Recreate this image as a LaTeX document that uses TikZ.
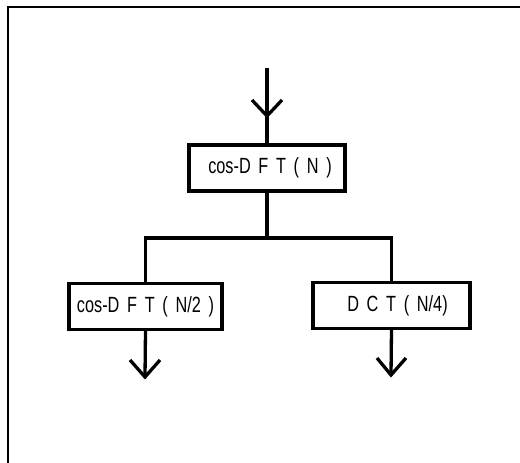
\documentclass[tikz,border=0pt]{standalone}
\usepackage{fontspec}
\newfontfamily\condfont[FakeStretch=0.74, WordSpace=1.7]{Liberation Sans}
\usetikzlibrary{calc}
\tikzset{
  blockbox/.style={draw, line width=3.3pt, minimum height=46pt, inner sep=0pt,
    font=\condfont\fontsize{22}{24}\selectfont},
  wire/.style={line width=3.3pt},
  vhead/.style={line width=3.3pt, line join=miter},
}
\begin{document}
\begin{tikzpicture}[x=1pt, y=-1pt]
  \useasboundingbox (0,0) rectangle (520,463);
  % outer frame (only the top and left edges are visible)
  \draw[line width=2.6pt] (8,480) -- (8,7) -- (540,7);

  % blocks
  \node[blockbox, minimum width=156pt] (top) at (267,168) {\hspace*{6pt}cos-D F T ( N )};
  \node[blockbox, minimum width=153pt] (left) at (145.5,306.5) {cos-D F T ( N/2 )};
  \node[blockbox, minimum width=157pt] (right) at (391.5,305.5) {\hspace*{12pt}D C T ( N/4)};

  % input line with its arrowhead
  \coordinate (in) at (267,68);
  \draw[wire] (in) -- (top.north);
  \draw[vhead] ($(in)+(-15,32)$) -- ($(in)+(0,48)$) -- ($(in)+(15,32)$);

  % branching to the two sub-blocks
  \coordinate (split) at (top.south |- 0,238);
  \draw[wire] (top.south) -- (split);
  \draw[wire] (split) -| (left.north);
  \draw[wire] (split) -| (right.north);

  % outputs
  \coordinate (lout) at (145,377);
  \coordinate (rout) at (391,375);
  \draw[wire] (left.south) -- (lout);
  \draw[vhead] ($(lout)+(-15,-17)$) -- (lout) -- ($(lout)+(15,-17)$);
  \draw[wire] (right.south) -- (rout);
  \draw[vhead] ($(rout)+(-14,-17)$) -- (rout) -- ($(rout)+(15,-17)$);
\end{tikzpicture}
\end{document}
